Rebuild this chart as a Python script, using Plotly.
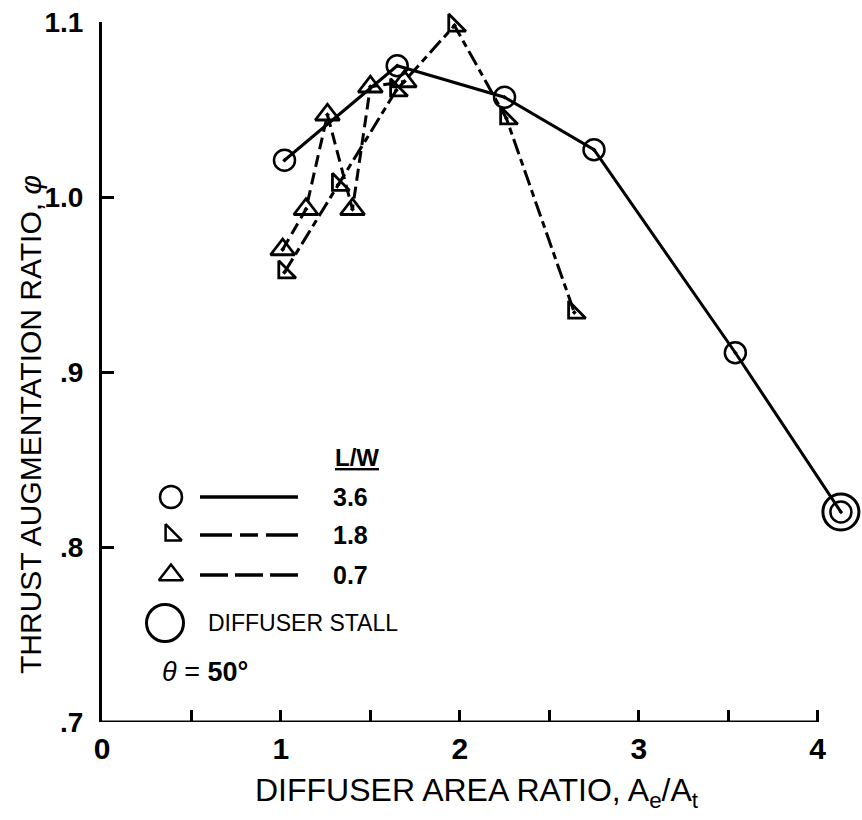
import plotly.graph_objects as go

# ---- data ----
area_36 = [1.02, 1.65, 2.25, 2.75, 3.54, 4.13]
phi_36 = [1.021, 1.075, 1.057, 1.027, 0.911, 0.820]
area_18 = [1.02, 1.32, 1.645, 1.97, 2.26, 2.64]
phi_18 = [0.957, 1.007, 1.061, 1.098, 1.045, 0.934]
area_07 = [1.01, 1.14, 1.26, 1.40, 1.50, 1.69]
phi_07 = [0.970, 0.993, 1.047, 0.993, 1.063, 1.066]
stall_area = area_36[-1:]
stall_phi = phi_36[-1:]

x_tickvals = [0, 1, 2, 3, 4]
x_ticktext = ["0", "1", "2", "3", "4"]
y_tickvals = [0.7, 0.8, 0.9, 1.0, 1.1]
y_ticktext = [".7", ".8", ".9", "1.0", "1.1"]
legend_labels = ["3.6", "1.8", "0.7"]

W, H = 862, 820
ML, MR, MT, MB = 102, 5, 22, 98
PW, PH = W - ML - MR, H - MT - MB

FONT = "Liberation Sans, Arial, sans-serif"


def fx(p):  # page pixel -> fraction of plot area
    return (p - ML) / PW


def fy(p):
    return (H - MB - p) / PH


fig = go.Figure()

line_w = 3
fig.add_trace(go.Scatter(
    x=area_36, y=phi_36, mode="lines+markers", cliponaxis=False,
    line=dict(color="black", width=line_w),
    marker=dict(symbol="circle-open-dot", size=21, color="black",
                line=dict(width=2.5, color="black")),
    showlegend=False))
fig.add_trace(go.Scatter(
    x=area_18, y=phi_18, mode="lines+markers", cliponaxis=False,
    line=dict(color="black", width=line_w, dash="16px,5px,7px,5px"),
    marker=dict(symbol="triangle-sw-open-dot", size=19, color="black",
                line=dict(width=2.8, color="black")),
    showlegend=False))
fig.add_trace(go.Scatter(
    x=area_07, y=phi_07, mode="lines+markers", cliponaxis=False,
    line=dict(color="black", width=line_w, dash="12px,6px"),
    marker=dict(symbol="triangle-up-open-dot", size=21, color="black",
                line=dict(width=2.8, color="black")),
    showlegend=False))
fig.add_trace(go.Scatter(
    x=stall_area, y=stall_phi, mode="markers", cliponaxis=False,
    marker=dict(symbol="circle-open", size=36, color="black",
                line=dict(width=3, color="black")),
    showlegend=False))

# ---- legend key (drawn on an overlay axis in plot-area fractions) ----
key_rows = [497, 535, 575]
key_syms = ["circle-open", "triangle-sw-open", "triangle-up-open"]
key_sizes = [22, 18, 21]
key_dash = ["solid", "32px,8px,18px,8px", "28px,7px"]
for yrow, sym, sz in zip(key_rows, key_syms, key_sizes):
    fig.add_trace(go.Scatter(
        x=[fx(171)], y=[fy(yrow)], xaxis="x2", yaxis="y2", mode="markers",
        cliponaxis=False,
        marker=dict(symbol=sym, size=sz, color="black",
                    line=dict(width=2.5, color="black")),
        showlegend=False, hoverinfo="skip"))
fig.add_trace(go.Scatter(
    x=[fx(165)], y=[fy(623)], xaxis="x2", yaxis="y2", mode="markers",
    cliponaxis=False,
    marker=dict(symbol="circle-open", size=37, color="black",
                line=dict(width=3, color="black")),
    showlegend=False, hoverinfo="skip"))

shapes = []
for yrow, d in zip(key_rows, key_dash):
    shapes.append(dict(type="line", xref="paper", yref="paper",
                       x0=fx(200), x1=fx(298), y0=fy(yrow), y1=fy(yrow),
                       line=dict(color="black", width=3.5, dash=d)))
# x axis line ends at 4
shapes.append(dict(type="line", xref="x", yref="y", x0=0, x1=4,
                   y0=0.7, y1=0.7, line=dict(color="black", width=3)))

annotations = [
    dict(x=fx(333), y=fy(457), xref="paper", yref="paper", xanchor="left",
         yanchor="middle", showarrow=False, text="<b><u>L/W</u></b>",
         font=dict(family=FONT, size=24, color="black")),
]
for yrow, lab in zip(key_rows, legend_labels):
    annotations.append(dict(x=fx(331), y=fy(yrow), xref="paper", yref="paper",
                            xanchor="left", yanchor="middle", showarrow=False,
                            text="<b>%s</b>" % lab,
                            font=dict(family=FONT, size=25, color="black")))
annotations.append(dict(x=fx(206), y=fy(623), xref="paper", yref="paper",
                        xanchor="left", yanchor="middle", showarrow=False,
                        text="DIFFUSER STALL",
                        font=dict(family=FONT, size=23, color="black")))
annotations.append(dict(x=fx(160), y=fy(672), xref="paper", yref="paper",
                        xanchor="left", yanchor="middle", showarrow=False,
                        text="<i>θ</i> = <b>50°</b>",
                        font=dict(family=FONT, size=27, color="black")))
# axis titles
annotations.append(dict(x=fx(30), y=fy(425), xref="paper", yref="paper",
                        xanchor="center", yanchor="middle", showarrow=False,
                        textangle=-90,
                        text="THRUST AUGMENTATION RATIO, <i>φ</i>",
                        font=dict(family=FONT, size=30, color="black")))
annotations.append(dict(x=fx(477), y=fy(792), xref="paper", yref="paper",
                        xanchor="center", yanchor="middle", showarrow=False,
                        text="DIFFUSER AREA RATIO, A<sub>e</sub>/A<sub>t</sub>",
                        font=dict(family=FONT, size=32, color="black")))

fig.update_layout(
    width=W, height=H,
    margin=dict(l=ML, r=MR, t=MT, b=MB, pad=0),
    paper_bgcolor="white", plot_bgcolor="white",
    font=dict(family=FONT, color="black"),
    shapes=shapes, annotations=annotations,
    xaxis=dict(range=[0, 4.22], showline=False, showgrid=False, zeroline=False,
               tickmode="array", tickvals=x_tickvals,
               ticktext=["<b>%s</b>" % t for t in x_ticktext],
               ticks="inside", ticklen=12, tickwidth=2.5, tickcolor="black",
               ticklabelstandoff=6,
               minor=dict(tickmode="linear", tick0=0, dtick=0.5, ticks="inside",
                          ticklen=12, tickwidth=2.5, tickcolor="black",
                          showgrid=False),
               tickfont=dict(family=FONT, size=30, color="black")),
    yaxis=dict(range=[0.7, 1.1], showline=True, linecolor="black", linewidth=3,
               showgrid=False, zeroline=False,
               tickmode="array", tickvals=y_tickvals,
               ticktext=["<b>%s</b>" % t for t in y_ticktext],
               ticks="inside", ticklen=12, tickwidth=2.5, tickcolor="black",
               ticklabelstandoff=10,
               tickfont=dict(family=FONT, size=28, color="black")),
    xaxis2=dict(overlaying="x", anchor="y2", range=[0, 1], visible=False),
    yaxis2=dict(overlaying="y", anchor="x2", range=[0, 1], visible=False),
)

fig.write_html("out.html")
